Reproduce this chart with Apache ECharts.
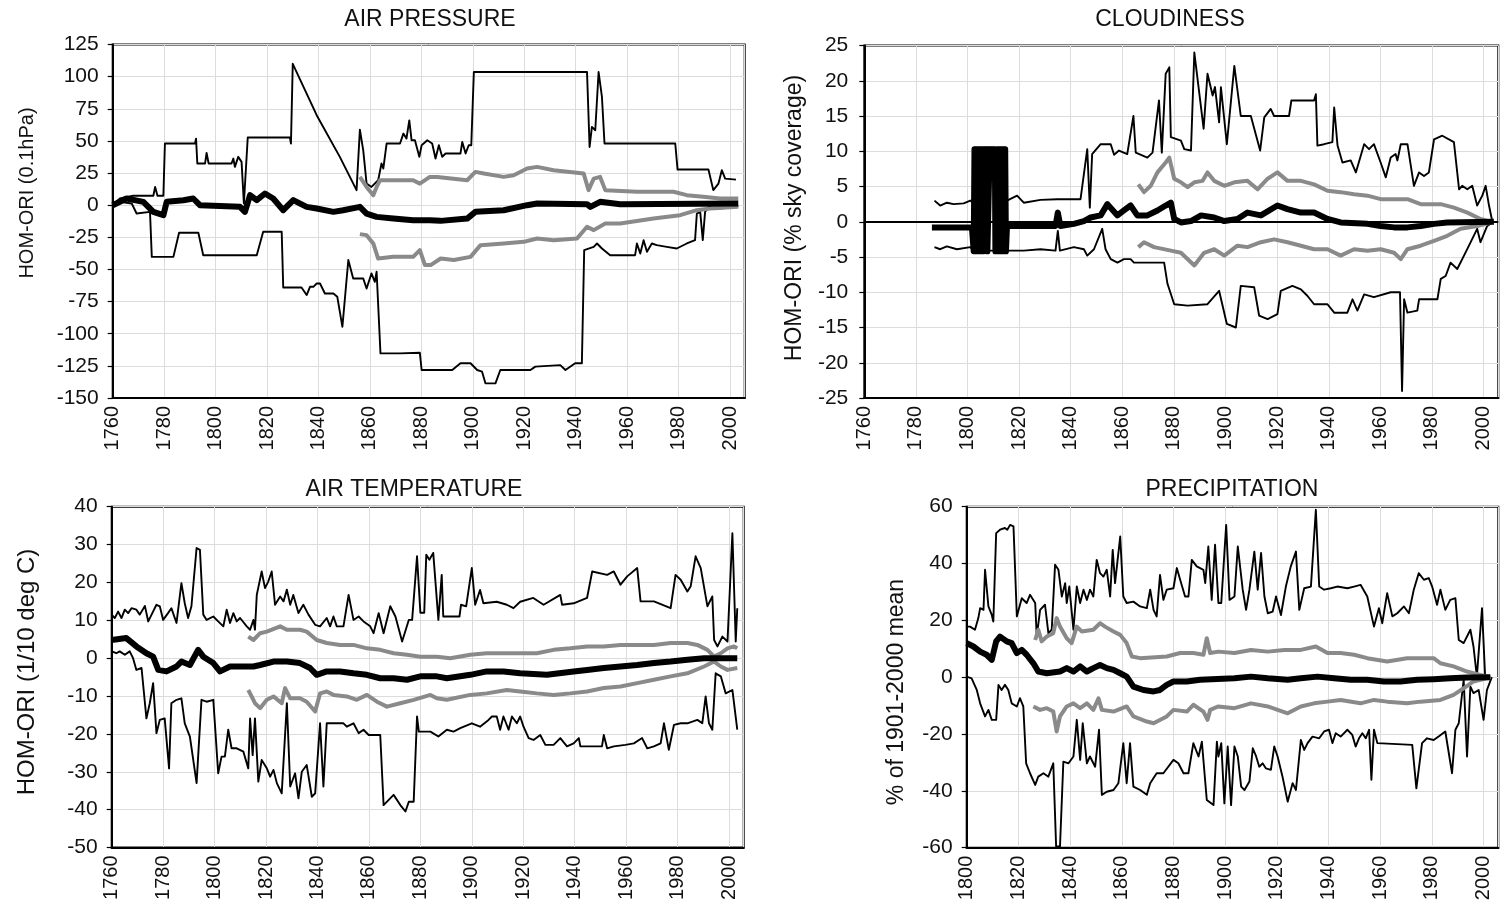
<!DOCTYPE html>
<html>
<head>
<meta charset="utf-8">
<script src="https://cdn.jsdelivr.net/npm/echarts@6/dist/echarts.min.js"></script>
<style>html,body{margin:0;padding:0;background:#fff;}#c{width:1507px;height:914px;}</style>
</head>
<body>
<div id="c"></div>
<script>
// ---------------- DATA ----------------
const xTickYearsTop = [1760,1780,1800,1820,1840,1860,1880,1900,1920,1940,1960,1980,2000];
const panelTitles = ['AIR PRESSURE','CLOUDINESS','AIR TEMPERATURE','PRECIPITATION'];
const axisNames = ['HOM-ORI (0.1hPa)','HOM-ORI (% sky coverage)','HOM-ORI (1/10 deg C)','% of 1901-2000 mean'];

// AIR PRESSURE
const pressMax = [[1760,0],[1762.8,5.2],[1768,7.3],[1775.8,7.3],[1776.5,14.2],[1777.4,7.3],[1779.7,7.3],[1780.3,48],[1792,48],[1792.4,51.8],[1792.9,32.4],[1795.9,32.4],[1796.5,40.7],[1797.3,32.4],[1806.2,32.4],[1806.9,36.3],[1807.5,29.8],[1808.8,37.6],[1810.1,33.7],[1811,1.3],[1812.5,52.6],[1828.9,52.6],[1829.3,47.9],[1830,110],[1839.3,70],[1848.3,37.6],[1854.8,11.7],[1856.1,58.8],[1857.4,42.7],[1858.7,16.8],[1860.6,14.2],[1863.2,19.4],[1864.5,32.4],[1865.2,28.5],[1866.5,48],[1871.7,48],[1873,55.7],[1874.2,51.8],[1875.3,66],[1876.2,50.5],[1877.5,50.5],[1879.2,37.6],[1880.1,46.6],[1882.3,50.5],[1884.2,48],[1885.5,36.3],[1886.8,46.6],[1888.1,37.6],[1889.4,40.2],[1895.2,40.2],[1895.9,49.2],[1897.2,40.2],[1898.4,46.6],[1899.4,46.6],[1900.4,103.6],[1944.4,103.6],[1945.4,45.3],[1946.3,60.9],[1947.6,58.3],[1948.9,103.6],[1950.2,84.2],[1951.2,48],[1978.7,48],[1979.6,27.7],[1991.6,27.7],[1993.5,11.7],[1995.5,16.8],[1996.8,27.2],[1998.1,20.7],[2002.3,19.9]];
const pressMin = [[1760,0],[1762.8,2.6],[1767.4,1.3],[1769.3,-6.5],[1774.5,-5.2],[1775.2,-40.2],[1783.6,-40.2],[1785.8,-21.5],[1793.3,-21.5],[1795.2,-38.9],[1816,-38.9],[1818.5,-20.7],[1825.7,-20.7],[1826.3,-64],[1833.4,-64],[1835.4,-69.9],[1836.7,-63.5],[1838,-63.5],[1839.3,-60.9],[1840.6,-60.9],[1842.5,-68.7],[1845.8,-68.7],[1847.3,-71.2],[1849.3,-94.6],[1851.6,-42.7],[1853.5,-57],[1857.4,-57],[1858.7,-64.8],[1860.6,-53.1],[1861.9,-59.6],[1862.6,-51.8],[1864.1,-115.3],[1871.7,-115.3],[1879.4,-114.8],[1880.1,-128.2],[1892,-128.2],[1895.2,-123],[1899.1,-123],[1901.7,-128.2],[1903.6,-129.5],[1904.9,-138.6],[1908.8,-138.6],[1910.7,-128.2],[1922.4,-128.2],[1924.3,-125.6],[1934,-124.4],[1936,-128.2],[1939.8,-123],[1942.4,-123],[1943.3,-35],[1947,-32.4],[1948.3,-29.8],[1950.2,-33.7],[1953.4,-38.9],[1963.1,-38.9],[1963.8,-29.8],[1965.1,-37.6],[1966.4,-27.2],[1967.7,-36.3],[1969.6,-29.8],[1971.5,-31.1],[1975.4,-32.4],[1979.3,-33.7],[1983.2,-29.8],[1986.4,-27.2],[1987.1,-6.5],[1988.4,-5.2],[1989.4,-27.2],[1990.3,-5.2],[1991.6,-1.3],[1996.1,-2.6],[2003.2,-0.8]];
const pressHi = [[1856.1,22],[1858.7,14.2],[1861.3,7.8],[1862.6,14.2],[1863.9,19.4],[1876.8,19.4],[1879.4,16.8],[1883.3,22],[1886.2,22],[1897.8,19.4],[1901,25.9],[1904.3,24.6],[1912,22],[1915.9,23.3],[1921.1,28.5],[1925,29.8],[1931.4,27.2],[1943.1,24.6],[1945,11.7],[1947,20.7],[1949.5,22],[1951.5,11.7],[1963.8,10.4],[1978,10.4],[1983.2,7.8],[1989.6,6.5],[1996.1,5.2],[2003.2,5.2]];
const pressLo = [[1856.1,-22.5],[1858.7,-23.3],[1861.3,-29.8],[1863.2,-41.5],[1869.1,-40.2],[1876.8,-40.2],[1879.4,-35],[1881.4,-46.6],[1883.6,-46.6],[1887.5,-41.5],[1892.6,-42.7],[1899.1,-40.2],[1903,-31.1],[1912,-29.8],[1919.8,-28.5],[1925,-25.9],[1931.4,-27.2],[1940.5,-25.9],[1944.4,-16.8],[1947,-19.4],[1951.5,-14.2],[1957.3,-14.2],[1970.2,-10.4],[1980.6,-7.8],[1987.1,-3.9],[1992.2,-2.6],[2003.2,-1.3]];
const pressMean = [[1760,0],[1765.4,5.2],[1771.9,2.6],[1775.8,-5.2],[1779.7,-7.8],[1781,2.6],[1787.5,3.9],[1791.3,5.2],[1793.9,0],[1809.5,-1.3],[1811.4,-5.2],[1813.4,7.8],[1816,3.9],[1819.2,9.1],[1822.4,5.2],[1826.3,-3.9],[1830.2,3.9],[1835.4,-1.3],[1839.3,-2.6],[1845.8,-5.2],[1849.6,-3.9],[1856.1,-1.3],[1858.7,-6.5],[1862.6,-9.1],[1869.1,-10.4],[1876.8,-11.7],[1883.3,-11.7],[1887.5,-12.2],[1897.8,-10.4],[1901,-5.2],[1912,-3.9],[1921.1,0],[1925,1.3],[1944.4,0.8],[1945.7,-1.3],[1949.5,2.6],[1957.3,0.8],[2003.2,1.3]];

// CLOUDINESS
const cloudMax = [[1787.2,3],[1789.4,2.3],[1792,2.7],[1794.6,2.5],[1798.5,2.6],[1801.1,3],[1802.1,2.7],[1802.6,10.5],[1814.7,10.5],[1815.3,3],[1819.2,3.7],[1821.8,2.7],[1828.3,3.1],[1834.7,3.2],[1843.8,3.2],[1846.4,10.3],[1847.4,2],[1848.3,9.6],[1851.6,11],[1855.5,11],[1856.8,9.5],[1858.7,10.1],[1861.9,9.6],[1864.3,15],[1865.2,9.8],[1869.7,9.1],[1871.7,9.8],[1874.2,17.2],[1875.3,9.8],[1876.8,21],[1878.2,21.9],[1878.8,12],[1882.7,11.5],[1884,10.3],[1886.6,10.1],[1887.9,24],[1888.5,23.8],[1891.5,13.2],[1893,21],[1895,17.9],[1895.9,19.1],[1897.5,14.1],[1898.2,19.1],[1900.5,11],[1903.4,22.1],[1905.9,15],[1909.8,15],[1913.4,10.1],[1915,14.8],[1917.5,16],[1918.8,15],[1924.6,15],[1925.5,17.2],[1934.3,17.2],[1935,18.1],[1935.6,10.8],[1938.2,11],[1941.4,11.3],[1942.1,16.2],[1943.4,10.8],[1945.3,8.4],[1948.5,8.7],[1950.5,7],[1953.7,11],[1955.6,10.3],[1957.5,11],[1960.1,8.4],[1962.1,6.3],[1964,9.1],[1965.9,9.6],[1966.6,8.7],[1967.9,11],[1970.5,11],[1973,5.1],[1975,7],[1976.9,6.5],[1978.8,7],[1980.8,11.7],[1984,12.2],[1988.5,11.3],[1990.5,4.6],[1991.7,5.1],[1993.7,4.6],[1995.6,5.1],[1997.5,2.3],[1999.5,3.7],[2000.8,5.1],[2002.1,2.3],[2003.4,0]];
const cloudMin = [[1787.2,-3.6],[1789.4,-3.9],[1792,-3.5],[1795.9,-3.9],[1801.1,-3.6],[1802.4,-4.1],[1814.7,-4.1],[1815.3,-4],[1821.8,-4.1],[1828.3,-3.9],[1834.1,-4.1],[1835,-1.3],[1835.8,-4.1],[1841.2,-3.6],[1845.1,-3.9],[1846.4,-4.8],[1849,-3.9],[1852.2,-1],[1853.5,-3.9],[1855.5,-5.3],[1858.1,-5.8],[1860.6,-5.3],[1863.2,-5.3],[1864.5,-5.8],[1876.2,-5.8],[1877.5,-8.8],[1880.1,-11.7],[1885.3,-11.9],[1893,-11.7],[1897.5,-9.8],[1900.5,-14.5],[1904,-15],[1905.9,-9.1],[1911.1,-9.3],[1913,-13.3],[1916.3,-13.8],[1920.1,-13.1],[1921.4,-9.8],[1925.9,-9.1],[1929.2,-9.6],[1931.7,-10.5],[1934.3,-11.7],[1939.5,-11.7],[1942.1,-12.9],[1947.2,-12.9],[1949.2,-11],[1951.1,-12.6],[1953.7,-10.3],[1957.5,-10.7],[1964,-10],[1967.6,-10],[1968.4,-24],[1969.2,-11],[1970.5,-12.9],[1974.3,-12.6],[1975,-11],[1982.1,-11],[1983.4,-8.1],[1985.3,-7.7],[1987.2,-5.8],[1989.8,-6.7],[1992.4,-4.8],[1995,-2.9],[1997.5,-1],[1998.8,-2.9],[2001.4,-0.6],[2004,0]];
const cloudHi = [[1866.2,5.3],[1868.4,4.2],[1871,5.1],[1873.6,7],[1876.8,8.4],[1878.2,9.1],[1880.1,6.1],[1882.7,5.6],[1885.3,4.9],[1887.9,5.6],[1891.1,5.8],[1893,7],[1895.6,5.8],[1899.5,5.1],[1903.4,5.6],[1908.5,5.8],[1912.4,4.6],[1916.3,6.1],[1920.1,7],[1924,5.8],[1929.2,5.8],[1934.3,5.3],[1939.5,4.4],[1944.6,4.2],[1949.8,3.9],[1955,3.7],[1960.1,3.2],[1970.5,3.2],[1975.6,2.5],[1983.4,2.5],[1988.5,2],[1993.7,1.3],[1998.8,0.4],[2002.7,0]];
const cloudLo = [[1866.2,-3.6],[1868.4,-2.9],[1872.3,-3.6],[1878.8,-4.1],[1882.7,-4.4],[1887.9,-6.2],[1891.7,-4.4],[1895.6,-3.9],[1899.5,-4.8],[1904.6,-3.4],[1908.5,-3.6],[1913.7,-2.9],[1918.8,-2.5],[1924,-2.9],[1929.2,-3.4],[1934.3,-3.9],[1939.5,-3.9],[1944.6,-4.8],[1949.8,-3.9],[1955,-4.1],[1960.1,-3.9],[1965.3,-4.4],[1967.9,-5.3],[1970.5,-3.9],[1975.6,-3.4],[1980.8,-2.7],[1985.9,-2],[1991.1,-1],[1997.5,-0.6],[2002.7,-0.1]];
const cloudMean = [[1786.2,-0.8],[1801.7,-0.8],[1802.4,-4.2],[1802.7,10.3],[1803,-4.2],[1803.3,10.3],[1803.6,-4.2],[1803.9,10.3],[1804.2,-4.2],[1804.5,10.3],[1804.8,-4.2],[1805.1,10.3],[1805.4,-4.2],[1805.7,10.3],[1806,-4.2],[1806.3,10.3],[1807.5,10.3],[1807.7,-4.2],[1808.4,-4.2],[1808.6,10.3],[1810.6,10.3],[1810.8,-4.2],[1811.3,-4.2],[1811.6,10.3],[1811.9,-4.2],[1812.2,10.3],[1812.5,-4.2],[1812.8,10.3],[1813.1,-4.2],[1813.4,10.3],[1813.7,-4.2],[1814,10.3],[1814.3,-4.2],[1814.6,10.3],[1814.9,-4.2],[1815.3,-0.6],[1834.1,-0.6],[1835,1.3],[1836,-0.6],[1841.2,-0.3],[1845.1,0.1],[1847.7,0.6],[1851.6,0.9],[1854.2,2.5],[1858.1,0.9],[1860.6,1.6],[1863.2,2.3],[1865.8,0.9],[1869.7,0.9],[1873.6,1.6],[1876.8,2.3],[1878.8,2.7],[1880.1,0.4],[1882.7,-0.1],[1886.6,0.1],[1890.5,0.9],[1895.6,0.6],[1899.5,0.1],[1904.6,0.4],[1908.5,1.3],[1913.7,0.9],[1920.1,2.3],[1924,1.8],[1929.2,1.3],[1934.3,1.3],[1939.5,0.4],[1944.6,-0.1],[1955,-0.3],[1960.1,-0.6],[1965.3,-0.8],[1970.5,-0.8],[1975.6,-0.6],[1980.8,-0.3],[1985.9,-0.1],[2004,0]];

// AIR TEMPERATURE
const tempMax = [[1760,11.5],[1761.2,10.6],[1762.5,12.3],[1763.8,10.6],[1765.1,12.8],[1766.4,11.9],[1767.7,13.2],[1769.6,12.8],[1770.9,11.5],[1772.9,13.8],[1774.2,9.7],[1775.5,11.5],[1777.4,14.1],[1778.7,13.7],[1780,10.1],[1781.9,11.9],[1783.2,13.2],[1785.2,9.3],[1787.1,19.8],[1788.4,14.5],[1789.7,10.6],[1791,13.7],[1793,29.1],[1794.3,28.6],[1795.6,11.5],[1796.9,10.1],[1799.5,11],[1801.4,9.7],[1803.4,8.4],[1804.7,12.8],[1806,9.3],[1807.3,11.9],[1808.6,9.7],[1809.9,10.6],[1812.5,8.4],[1813.8,7.5],[1815.1,10.1],[1815.7,7.5],[1816.4,16.7],[1818.3,22.9],[1819.6,18.5],[1820.9,20.3],[1822.2,22.9],[1823.5,14.1],[1825.5,16.3],[1826.8,15],[1828.1,18.1],[1829.4,14.1],[1830.6,16.7],[1832.6,11.9],[1834.5,14.1],[1836.5,11.5],[1839.1,8.8],[1841,8.4],[1843.6,10.6],[1844.9,8.4],[1846.2,11],[1847.5,8.4],[1850.1,8.4],[1852.1,16.7],[1854,10.1],[1856,11],[1857.9,9.7],[1860.5,8.4],[1861.8,6.6],[1863.8,11.9],[1865.7,6.6],[1868.3,13.7],[1870.3,11],[1872.9,4.4],[1875.5,10.1],[1876.8,10.1],[1878.7,26.9],[1880,12],[1881.5,12],[1882.3,27.3],[1883.5,26],[1885,27.8],[1887,10.1],[1888.3,22],[1888.9,11],[1890,11],[1895.2,11],[1895.8,14.1],[1897.8,13.7],[1900,23.8],[1901.3,14.1],[1903.2,18],[1904.5,14.5],[1909.7,14.9],[1913.6,14.1],[1916.2,13.2],[1918.8,14.9],[1923.9,15.9],[1927.9,14.1],[1934.4,16.7],[1935.1,14.1],[1939.6,14.5],[1944.8,15.9],[1946.8,22.9],[1952.6,22],[1955.2,22.9],[1957.8,19.4],[1960.4,21.6],[1964.3,23.8],[1965.6,15],[1970.8,15],[1977.3,13.2],[1979.2,22],[1981.2,20.7],[1983.8,17.6],[1985.1,19],[1987,26.9],[1989,23.8],[1991.6,13.7],[1993.5,16.3],[1994.2,4.8],[1995.5,3.1],[1997.4,5.7],[1999.4,4.4],[2001.3,33],[2002.6,4.4],[2003.2,13.2]];
const tempMin = [[1760,1.8],[1761.8,1.3],[1763.1,1.8],[1765.1,0.9],[1767,1.8],[1768.3,0],[1769.6,-3.1],[1771.6,-2.6],[1773.5,-15.9],[1774.8,-11.9],[1776.1,-6.6],[1777.4,-19.8],[1778.7,-16.3],[1780.6,-15.9],[1782.3,-29.1],[1783.2,-11.9],[1785.2,-11],[1787.1,-10.6],[1788.4,-17.2],[1790.4,-20.7],[1793,-33],[1794.9,-11],[1796.9,-11.5],[1799.5,-11],[1801.4,-30.4],[1802.7,-26],[1804,-26],[1805.3,-18.9],[1806.6,-23.8],[1808.6,-23.8],[1811.2,-24.7],[1813.1,-29.1],[1813.8,-15.9],[1814.8,-25.6],[1815.7,-15.9],[1817,-32.6],[1818.3,-26.9],[1820.3,-29.1],[1821.6,-31.3],[1822.9,-29.5],[1824.2,-33],[1826.1,-35.7],[1828.1,-11.9],[1829.4,-33.9],[1831.3,-30.4],[1832.6,-37],[1833.9,-30],[1835.8,-28.2],[1837.8,-36.6],[1839.1,-35.7],[1841,-17.2],[1842.3,-33.9],[1843.6,-17.2],[1850.1,-17.2],[1851.4,-18.1],[1854,-17.2],[1856,-19.8],[1857.9,-18.9],[1859.9,-20.3],[1864.4,-20.3],[1865.7,-38.8],[1869.6,-36.1],[1872.2,-38.8],[1874.2,-40.5],[1875.5,-37.9],[1877.4,-37.9],[1878.7,-15.4],[1879.4,-19.4],[1883.9,-19.4],[1887,-20.7],[1890.3,-18.9],[1892.9,-19.4],[1895.5,-18.5],[1900,-17.2],[1903.2,-18.1],[1906.5,-16.3],[1907.8,-15.4],[1909.7,-15.4],[1911,-18.9],[1912.3,-15.4],[1914.3,-18.9],[1915.6,-15.4],[1917.5,-17.2],[1918.8,-15.4],[1920.1,-18.1],[1922.1,-21.1],[1924,-21.6],[1926.6,-20.3],[1928.6,-22.9],[1931.8,-22.9],[1934.4,-21.1],[1937,-23.3],[1939.6,-22.5],[1941.6,-21.1],[1942.2,-23.3],[1950.6,-23.3],[1951.3,-20.3],[1952.6,-23.8],[1955.2,-23.3],[1959.7,-22.9],[1963,-22.5],[1966.2,-21.1],[1968.2,-23.8],[1970.8,-23.3],[1973.4,-22.5],[1974.7,-17.2],[1976.6,-24.2],[1978.6,-17.6],[1981.2,-17.2],[1983.8,-17.2],[1987.7,-16.3],[1989.6,-17.2],[1990.9,-10.1],[1992.2,-17.2],[1993.5,-18.9],[1994.8,-4],[1996.8,-4.8],[1998.7,-9.3],[2001.3,-8.4],[2003.2,-18.9]];
const tempHi = [[1813.1,5.7],[1815.1,4.8],[1817.7,6.6],[1820.3,7],[1825.5,8.4],[1828.1,7.5],[1833.2,7.5],[1835.8,7],[1839.7,4.8],[1843.6,4],[1848.8,3.5],[1854,3.5],[1859.2,2.6],[1864.4,2.2],[1869.6,1.3],[1874.8,0.9],[1880,0.4],[1886.4,0.4],[1891.6,0],[1899.4,0.9],[1905.8,1.3],[1918.8,1.3],[1925.3,1.3],[1931.8,2.2],[1938.3,2.6],[1944.8,3.1],[1951.3,3.1],[1957.8,3.5],[1970.8,3.5],[1977.3,4],[1983.8,4],[1987.7,3.5],[1991.6,2.2],[1994.2,0.4],[1996.8,1.3],[1999.4,2.6],[2001.9,3.1],[2003.2,2.6]];
const tempLo = [[1813.1,-8.4],[1814.4,-10.1],[1815.7,-11.9],[1817.7,-13.2],[1820.3,-11],[1822.9,-10.1],[1826.1,-11.9],[1827.4,-7.9],[1829.4,-10.6],[1833.2,-10.6],[1835.8,-11.5],[1839.1,-14.1],[1841,-9.3],[1843.6,-8.8],[1846.2,-9.7],[1851.4,-10.1],[1855.3,-11],[1859.2,-9.7],[1863.1,-11.5],[1867,-12.8],[1872.2,-11.9],[1877.4,-11],[1883.9,-9.7],[1886.4,-10.6],[1890.3,-11],[1899.4,-9.7],[1905.8,-9.3],[1913.6,-8.4],[1918.8,-8.8],[1925.3,-9.3],[1931.8,-9.7],[1938.3,-9.3],[1944.8,-8.8],[1951.3,-7.9],[1957.8,-7.5],[1964.3,-6.6],[1970.8,-5.7],[1977.3,-4.8],[1983.8,-4],[1990.3,-2.2],[1994.2,-0.9],[1996.8,-2.2],[1999.4,-3.1],[2003.2,-2.6]];
const tempMean = [[1760,4.8],[1765.7,5.3],[1769.6,3.1],[1773.5,1.3],[1776.1,0.4],[1778.1,-3.1],[1781.3,-3.5],[1785.2,-2.2],[1787.1,-0.9],[1790.4,-1.8],[1793.6,2.2],[1795.6,0.4],[1799.5,-1.3],[1802.1,-3.5],[1806,-2.2],[1815.1,-2.2],[1817.7,-1.8],[1822.9,-0.9],[1828.1,-0.9],[1833.2,-1.3],[1837.1,-2.6],[1839.7,-4.4],[1843.6,-3.5],[1848.8,-3.5],[1854,-4],[1859.2,-4.4],[1864.4,-5.3],[1869.6,-5.3],[1874.8,-5.7],[1880,-4.8],[1886.4,-4.8],[1890.3,-5.3],[1899.4,-4.4],[1905.8,-3.5],[1912.3,-3.5],[1918.8,-4],[1929.2,-4.4],[1939.6,-3.5],[1944.8,-3.1],[1951.3,-2.6],[1957.8,-2.2],[1964.3,-1.8],[1970.8,-1.3],[1977.3,-0.9],[1983.8,-0.4],[1990.3,0],[2003.2,0]];

// PRECIPITATION
const precMax = [[1800,17.8],[1801.3,17.8],[1803.2,16.7],[1804.5,20.8],[1805.2,24.3],[1806.5,23.7],[1807.1,37.8],[1808.4,24.9],[1809.7,21.9],[1810.3,19.6],[1811.4,50.7],[1812.9,51.9],[1814.8,52.5],[1815.7,51.9],[1816.8,53.6],[1818.1,53.1],[1819.4,21.4],[1821.3,27.8],[1823.2,26.1],[1824.5,29],[1826.5,26.1],[1827.1,14.3],[1828.4,23.7],[1830.3,25.5],[1831.6,15.5],[1832.9,16.7],[1834.2,39.6],[1835.5,37.8],[1836.8,28.4],[1838.1,33.1],[1838.7,26.1],[1839.7,31.9],[1841.3,16.7],[1842.6,31.9],[1843.9,26.1],[1845.2,30.8],[1846.5,27.2],[1847.7,30.8],[1849,28.4],[1850.3,41.3],[1851.6,36.6],[1852.9,35.4],[1854.2,37.8],[1855.5,28.4],[1856.5,44.8],[1857.4,33.1],[1859.4,49.5],[1860.6,28.4],[1861.9,26.1],[1864.5,26.6],[1867.1,24.9],[1869.7,24.3],[1871,30.8],[1872.3,23.7],[1873.5,21.4],[1874.8,36],[1876.1,27.2],[1877.4,30.8],[1880,31.3],[1881.3,38.4],[1882.6,34.3],[1884.5,28.4],[1885.8,28.4],[1887.1,41.3],[1889,39],[1891.6,37.8],[1892.3,33.1],[1893.5,46],[1894.8,27.2],[1896.1,46.6],[1897.4,26.1],[1898.5,26.1],[1900.4,53.6],[1901.7,27.2],[1903.6,28.4],[1904.9,46],[1906.8,30.8],[1908.1,23.7],[1909.4,30.8],[1911.3,44.2],[1912.6,30.8],[1913.9,43.7],[1915.2,28.4],[1916.5,22.5],[1918.4,23.1],[1919.7,28.4],[1921.6,21.9],[1923.5,31.9],[1925.4,39],[1927.4,44.2],[1928.7,23.7],[1930.6,31.3],[1933.2,31.9],[1935.1,58.9],[1936.4,31.9],[1938.3,30.8],[1940.9,31.3],[1943.4,31.9],[1947.3,31.3],[1949.9,31.9],[1952.4,32.5],[1955,28.4],[1957.6,17.8],[1959.5,24.3],[1960.8,19],[1962.7,29.6],[1964.7,21.4],[1966.6,22.5],[1969.2,24.9],[1971.1,22.5],[1973,30.8],[1974.9,36.6],[1976.9,34.3],[1978.8,34.9],[1980.1,31.9],[1982,25.5],[1983.3,30.8],[1985.2,23.7],[1987.1,27.2],[1989.1,27.8],[1990.4,13.1],[1992.3,12],[1994.9,16.7],[1996.1,10.8],[1997.4,0.2],[1999.4,24.3],[2000.6,0.2],[2002.6,0]];
const precMin = [[1800,0.2],[1801.9,-0.4],[1803.9,-4.5],[1805.2,-9.2],[1807.1,-13.8],[1808.4,-11.5],[1809.7,-15],[1811.4,-15],[1812.3,-2.7],[1813.5,-4.5],[1814.8,-2.7],[1816.1,-4.5],[1817.4,-9.2],[1819.4,-10.3],[1820.6,-7.4],[1821.9,-10.3],[1823,-30.3],[1824.5,-33.8],[1826.5,-37.9],[1827.7,-35],[1829.7,-33.8],[1831.6,-35],[1833.5,-30.3],[1834.6,-59.6],[1836.1,-59.6],[1837.4,-29.7],[1839.4,-30.3],[1841.3,-27.9],[1842.6,-15],[1843.9,-29.1],[1844.9,-16.2],[1846.5,-30.3],[1847.7,-27.9],[1849.7,-31.5],[1851.2,-18.5],[1852.3,-41.4],[1854.2,-40.3],[1856.8,-39.7],[1858.7,-37.3],[1860.6,-23.2],[1861.9,-37.3],[1863.2,-23.2],[1864.5,-38.5],[1867.1,-39.7],[1869.7,-41.4],[1871,-37.3],[1873.5,-33.8],[1876.1,-33.8],[1880,-29.1],[1881.9,-30.3],[1883.9,-33.8],[1885.8,-33.8],[1887.7,-23.2],[1889.7,-27.9],[1891,-22.7],[1892.9,-43.2],[1895.5,-45],[1896.8,-22.7],[1897.4,-27.9],[1898.5,-23.2],[1899.7,-44.4],[1901,-24.4],[1902.3,-45],[1903.6,-24.4],[1904.9,-27.9],[1906.2,-38.5],[1907.5,-39.7],[1909.4,-36.7],[1910.7,-25],[1912,-27.9],[1913.2,-31.5],[1914.5,-30.3],[1915.8,-32.1],[1917.7,-32.6],[1919,-24.4],[1920.3,-27.9],[1922.2,-35],[1924.2,-43.8],[1926.1,-37.3],[1927.4,-39.7],[1929.3,-22.1],[1930.6,-25.6],[1931.9,-23.2],[1933.8,-20.9],[1936.4,-21.5],[1938.3,-19.1],[1940.2,-18.5],[1941.5,-23.2],[1942.8,-19.7],[1944.7,-20.9],[1947.3,-18.5],[1949.2,-20.3],[1950.5,-24.4],[1951.8,-21.5],[1953.1,-19.7],[1954.4,-21.5],[1955.7,-18.5],[1956.6,-36.1],[1957.6,-18.5],[1958.9,-23.2],[1972.4,-23.8],[1974,-39.1],[1976.2,-23.2],[1978.1,-21.5],[1980.7,-22.1],[1982.6,-20.9],[1985.2,-19.1],[1987.8,-33.8],[1989.1,-18.5],[1990.4,-16.2],[1992.3,-0.9],[1993.6,-27.9],[1994.9,-3.3],[1996.1,-5.6],[1998.1,-4.5],[2000,-15],[2001.3,-4.5],[2003.2,0]];
const precHi = [[1826.5,13.1],[1827.7,16.7],[1829,12.6],[1831,14.3],[1833.5,15.5],[1834.8,20.8],[1836.1,17.8],[1838.7,13.7],[1840.6,12],[1842.6,17.8],[1844.5,16.1],[1849,16.7],[1851.6,19],[1853.5,17.8],[1856.8,16.1],[1859.4,14.9],[1861.9,12],[1863.9,7.3],[1867.1,6.7],[1877.4,7.3],[1882.6,8.5],[1887.7,8.5],[1891.6,7.9],[1892.9,13.7],[1894.2,8.5],[1897.4,9],[1903.6,8.5],[1910,9.6],[1916.5,9],[1922.9,9.6],[1929.3,9.6],[1935.1,10.8],[1939.6,8.5],[1944.7,8.5],[1949.9,7.9],[1955,6.7],[1962.7,5.5],[1970.4,6.7],[1980.7,6.7],[1983.3,4.9],[1988.4,3.8],[1993.6,2],[1998.7,0.8],[2002.6,0]];
const precLo = [[1825.8,-10.3],[1828.4,-11.5],[1831,-10.9],[1833.5,-12.1],[1834.8,-19.1],[1836.1,-13.8],[1838.7,-10.3],[1841.3,-9.2],[1843.9,-10.9],[1846.5,-9.2],[1849,-11.5],[1851,-7.4],[1852.3,-11.5],[1856.8,-12.1],[1861.9,-10.3],[1864.5,-13.8],[1869.7,-15.6],[1872.3,-16.2],[1877.4,-13.8],[1880,-11.5],[1885.2,-12.1],[1887.7,-9.7],[1891.6,-12.1],[1893.2,-15],[1894.2,-11.5],[1897.4,-10.3],[1903.6,-10.9],[1910,-9.2],[1916.5,-10.3],[1924.2,-12.7],[1929.3,-10.3],[1934.4,-9.2],[1939.6,-8.6],[1944.7,-8],[1952.4,-9.2],[1957.6,-8],[1962.7,-8.6],[1970.4,-9.2],[1975.6,-8.6],[1983.3,-8],[1988.4,-6.2],[1992.3,-3.9],[1996.1,-1.5],[2002.6,0]];
const precMean = [[1800,12],[1802.6,10.8],[1805.2,9],[1807.7,7.9],[1809.7,6.1],[1811.4,12.6],[1812.9,14.3],[1815.5,12.6],[1817.4,12],[1819.4,8.5],[1821.3,9.6],[1823.2,7.9],[1825.8,4.9],[1827.7,2],[1831,1.4],[1836.1,2],[1838.7,3.2],[1841.3,2],[1843.9,3.8],[1846.5,2],[1849,3.2],[1851.6,4.3],[1854.2,3.2],[1856.8,2.6],[1859.4,1.4],[1861.9,0.2],[1864.5,-3.3],[1868.4,-4.5],[1872.3,-5],[1874.8,-4.5],[1877.4,-2.7],[1880,-1.5],[1885.2,-1.5],[1890.3,-0.9],[1903.6,-0.4],[1910,0.2],[1916.5,-0.4],[1924.2,-0.9],[1929.3,-0.4],[1935.7,0.2],[1942.2,-0.4],[1948.6,-0.9],[1955,-0.9],[1961.4,-1.5],[1967.9,-1.5],[1974.3,-0.9],[1980.7,-0.7],[1987.1,-0.4],[1993.6,-0.1],[2002.6,0]];

// ---------------- CHART ----------------
const FONT = '"Liberation Sans", Arial, Helvetica, sans-serif';
const X_END = 2005.7;
const grids = [
  {left:112.7, top:44.5, width:632, height:353.5},
  {left:864.3, top:45.5, width:634, height:352.5},
  {left:111.7, top:506.7, width:632, height:340.8},
  {left:966.7, top:506.7, width:531.6, height:341}
];
const yRanges = [
  {min:-150, max:125, interval:25},
  {min:-25, max:25, interval:5},
  {min:-50, max:40, interval:10},
  {min:-60, max:60, interval:20}
];
const yLabelMargins = [14, 16, 14, 14];
const xMins = [1760, 1760, 1760, 1800];
const panelData = [
  [pressMax, pressMin, pressHi, pressLo, pressMean],
  [cloudMax, cloudMin, cloudHi, cloudLo, cloudMean],
  [tempMax, tempMin, tempHi, tempLo, tempMean],
  [precMax, precMin, precHi, precLo, precMean]
];
const titlePos = [[430, 8], [1170, 8], [414, 478], [1232, 478]];
const namePos = [[27, 193], [795, 218], [27, 672], [897, 692]];
const nameSizes = [20, 23, 24, 23];

const styles = [
  {color:'#000', width:1.9},
  {color:'#000', width:1.9},
  {color:'#8a8a8a', width:4},
  {color:'#8a8a8a', width:4},
  {color:'#000', width:6}
];

const option = {
  animation:false,
  backgroundColor:'#fff',
  textStyle:{fontFamily:FONT},
  grid: grids.map(g => Object.assign({show:true, borderColor:'#000', borderWidth:2, backgroundColor:'transparent', containLabel:false}, g)),
  xAxis: grids.map((g,i) => ({
    gridIndex:i, type:'value', min:xMins[i], max:X_END, interval:20,
    axisLine:{show:true, onZero:false, lineStyle:{color:'#000', width:2}},
    axisTick:{show:false},
    axisLabel:{rotate:90, fontSize:20, color:'#111', margin:8, fontFamily:FONT,
      formatter: v => (Math.abs(v % 20) < 1e-6 ? String(v) : '')},
    splitLine:{show:true, lineStyle:{color:'#dcdcdc', width:1}}
  })),
  yAxis: grids.map((g,i) => ({
    gridIndex:i, type:'value', min:yRanges[i].min, max:yRanges[i].max, interval:yRanges[i].interval,
    axisLine:{show:true, onZero:false, lineStyle:{color:'#000', width:2}},
    axisTick:{show:true, length:5, lineStyle:{color:'#000', width:1.2}},
    axisLabel:{fontSize:21, color:'#111', margin:yLabelMargins[i], fontFamily:FONT},
    splitLine:{show:true, lineStyle:{color:'#dcdcdc', width:1}}
  })),
  series: [],
  graphic: []
};

panelData.forEach((arr, i) => {
  arr.forEach((d, k) => {
    const s = {
      type:'line', xAxisIndex:i, yAxisIndex:i, data:d,
      symbol:'none', showSymbol:false, silent:true,
      lineStyle:{color:styles[k].color, width:styles[k].width, join:'round'},
      z: 2 + k
    };
    if (i === 1 && k === 0) {
      s.markLine = {silent:true, symbol:'none', label:{show:false},
        lineStyle:{color:'#000', width:1.8, type:'solid'}, data:[{yAxis:0}]};
    }
    option.series.push(s);
  });
});

panelTitles.forEach((t, i) => {
  option.graphic.push({type:'text', x:titlePos[i][0], y:titlePos[i][1], z:100,
    style:{text:t, fontSize:23, fontFamily:FONT, fill:'#111', textAlign:'center', textVerticalAlign:'top'}});
});
axisNames.forEach((t, i) => {
  option.graphic.push({type:'text', x:namePos[i][0], y:namePos[i][1], rotation:Math.PI/2, z:100,
    style:{text:t, fontSize:nameSizes[i], fontFamily:FONT, fill:'#111', textAlign:'center', textVerticalAlign:'middle'}});
});

const chart = echarts.init(document.getElementById('c'), null, {renderer:'canvas'});
chart.setOption(option);
</script>
</body>
</html>
